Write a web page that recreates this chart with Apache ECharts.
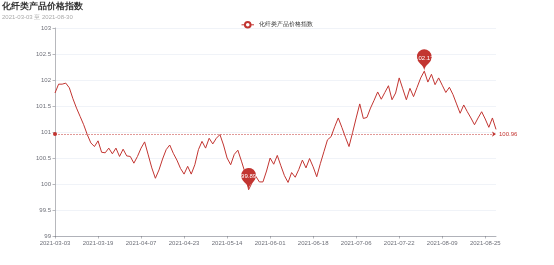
<!DOCTYPE html>
<html>
<head>
<meta charset="utf-8">
<script src="https://cdn.jsdelivr.net/npm/echarts@6/dist/echarts.min.js"></script>
<style>html,body{margin:0;padding:0;background:#fff;}#c{width:554px;height:265px;}</style>
</head>
<body>
<div id="c"></div>
<script>
const titleText = '化纤类产品价格指数';
const subText = '2021-03-03 至 2021-08-30';
const seriesName = '化纤类产品价格指数';
const dates = [
'2021-03-03','2021-03-04','2021-03-05','2021-03-08','2021-03-09','2021-03-10','2021-03-11','2021-03-12','2021-03-15','2021-03-16','2021-03-17','2021-03-18','2021-03-19','2021-03-22','2021-03-23','2021-03-24','2021-03-25','2021-03-26','2021-03-29','2021-03-30','2021-03-31',
'2021-04-01','2021-04-02','2021-04-06','2021-04-07','2021-04-08','2021-04-09','2021-04-12','2021-04-13','2021-04-14','2021-04-15','2021-04-16','2021-04-19','2021-04-20','2021-04-21','2021-04-22','2021-04-23','2021-04-26','2021-04-27','2021-04-28','2021-04-29','2021-04-30',
'2021-05-06','2021-05-07','2021-05-10','2021-05-11','2021-05-12','2021-05-13','2021-05-14','2021-05-17','2021-05-18','2021-05-19','2021-05-20','2021-05-21','2021-05-24','2021-05-25','2021-05-26','2021-05-27','2021-05-28','2021-05-31',
'2021-06-01','2021-06-02','2021-06-03','2021-06-04','2021-06-07','2021-06-08','2021-06-09','2021-06-10','2021-06-11','2021-06-15','2021-06-16','2021-06-17','2021-06-18','2021-06-21','2021-06-22','2021-06-23','2021-06-24','2021-06-25','2021-06-28','2021-06-29','2021-06-30',
'2021-07-01','2021-07-02','2021-07-05','2021-07-06','2021-07-07','2021-07-08','2021-07-09','2021-07-12','2021-07-13','2021-07-14','2021-07-15','2021-07-16','2021-07-19','2021-07-20','2021-07-21','2021-07-22','2021-07-23','2021-07-26','2021-07-27','2021-07-28','2021-07-29','2021-07-30',
'2021-08-02','2021-08-03','2021-08-04','2021-08-05','2021-08-06','2021-08-09','2021-08-10','2021-08-11','2021-08-12','2021-08-13','2021-08-16','2021-08-17','2021-08-18','2021-08-19','2021-08-20','2021-08-23','2021-08-24','2021-08-25','2021-08-26','2021-08-27','2021-08-30'
];
const values = [
101.75,101.92,101.92,101.94,101.85,101.64,101.46,101.30,101.14,100.95,
100.79,100.72,100.83,100.61,100.60,100.69,100.58,100.69,100.53,100.67,
100.54,100.53,100.40,100.53,100.69,100.81,100.56,100.31,100.11,100.27,
100.48,100.66,100.75,100.59,100.46,100.30,100.19,100.34,100.19,100.37,
100.66,100.82,100.69,100.88,100.77,100.88,100.95,100.75,100.50,100.37,
100.57,100.65,100.44,100.22,99.89,100.03,100.15,100.04,100.04,100.25,
100.50,100.38,100.55,100.35,100.16,100.03,100.22,100.13,100.28,100.46,
100.31,100.49,100.33,100.14,100.39,100.62,100.85,100.91,101.10,101.27,
101.09,100.90,100.72,100.99,101.27,101.54,101.26,101.28,101.46,101.61,
101.77,101.63,101.76,101.89,101.62,101.75,102.04,101.83,101.62,101.84,
101.68,101.86,102.04,102.17,101.96,102.11,101.91,102.04,101.90,101.76,
101.86,101.72,101.54,101.36,101.52,101.39,101.27,101.14,101.27,101.39,
101.25,101.09,101.27,101.05
];
const yMin = 99, yMax = 103, yStep = 0.5;

const chart = echarts.init(document.getElementById('c'), null, {renderer: 'canvas'});
chart.setOption({
  animation: false,
  color: ['#c23531'],
  title: {
    text: titleText, subtext: subText, left: 0, top: 0, padding: [2, 2, 2, 2], itemGap: 3,
    textStyle: {fontSize: 9, fontWeight: 'bold', color: '#333'},
    subtextStyle: {fontSize: 6, color: '#aaa'}
  },
  legend: {
    top: 16, left: 'center', itemWidth: 12.5, itemHeight: 7, itemGap: 5,
    textStyle: {fontSize: 6, color: '#333'},
    itemStyle: {borderWidth: 1},
    lineStyle: {width: 1},
    data: [seriesName]
  },
  grid: {left: 55, right: 58, top: 28, bottom: 29, containLabel: false},
  xAxis: {
    type: 'category', boundaryGap: false, data: dates,
    axisLine: {lineStyle: {color: '#6E7079', width: 0.5}},
    axisTick: {length: 2.5, interval: 11, lineStyle: {width: 0.5}},
    axisLabel: {fontSize: 6, color: '#6E7079', margin: 4, interval: 11}
  },
  yAxis: {
    type: 'value', min: yMin, max: yMax, interval: yStep,
    axisLine: {show: true, lineStyle: {color: '#6E7079', width: 0.5}},
    axisTick: {show: true, length: 2.5, lineStyle: {width: 0.5}},
    axisLabel: {fontSize: 6, color: '#6E7079', margin: 4},
    splitLine: {lineStyle: {color: '#E0E6F1', width: 0.5}}
  },
  series: [{
    name: seriesName, type: 'line', data: values,
    showSymbol: false, symbol: 'emptyCircle', symbolSize: 4,
    lineStyle: {width: 1},
    markPoint: {
      symbolSize: 25,
      label: {fontSize: 6, color: '#fff'},
      data: [{type: 'max', name: '最大值'}, {type: 'min', name: '最小值'}]
    },
    markLine: {
      symbolSize: 4,
      label: {fontSize: 6, distance: 3, color: '#c23531'},
      lineStyle: {width: 0.5},
      data: [{type: 'average', name: '平均值'}]
    }
  }]
});
</script>
</body>
</html>
